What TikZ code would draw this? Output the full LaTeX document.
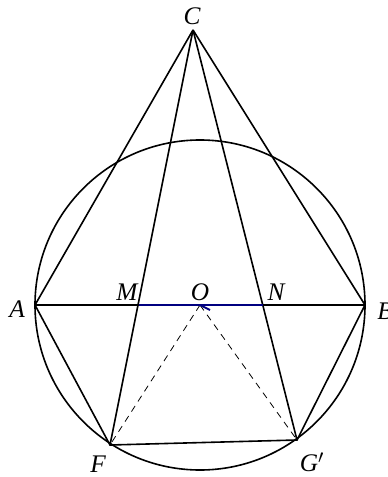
\documentclass[tikz,border=0pt]{standalone}
\usepackage{fontspec}
\setmainfont{Liberation Serif}[ItalicFont={Liberation Serif Italic}]
\begin{document}
\begin{tikzpicture}[x=0.75pt, y=-0.75pt, line width=1.2pt,
  lbl/.style={font=\fontsize{19}{22}\selectfont\itshape, inner sep=0pt}]
\useasboundingbox (0,0) rectangle (388,477);
\coordinate (O) at (200,305);
\coordinate (A) at (35,305);
\coordinate (B) at (365,305);
\coordinate (C) at (193,30);
\coordinate (F) at (110,445);
\coordinate (G) at (297,440);
\coordinate (M) at (138.5,305);
\coordinate (N) at (263,305);
\draw (O) circle (165);
\draw (A) -- (B);
\draw (C) -- (A);
\draw (C) -- (B);
\draw (C) -- (F);
\draw (C) -- (G);
\draw (A) -- (F) -- (G) -- (B);
\draw[line width=0.6pt, dash pattern=on 5pt off 4pt] (O) -- (F);
\draw[line width=0.6pt, dash pattern=on 5pt off 4pt] (O) -- (G);
\draw[blue!50!black, line width=1.5pt] (M) -- (N);
\draw[blue!50!black, line width=1.5pt] (O) -- ++(10,5);
\node[lbl] (lC) at (192,16) {C};
\node[lbl] (lA) at (17,309) {A};
\node[lbl] (lB) at (385,311) {B};
\node[lbl] (lM) at (127,292) {M};
\node[lbl] (lO) at (200,292) {O};
\node[lbl] (lN) at (276,292) {N};
\node[lbl] (lF) at (98,464) {F};
\node[lbl] (lG) at (312,462) {G$'$};
\end{tikzpicture}
\end{document}
